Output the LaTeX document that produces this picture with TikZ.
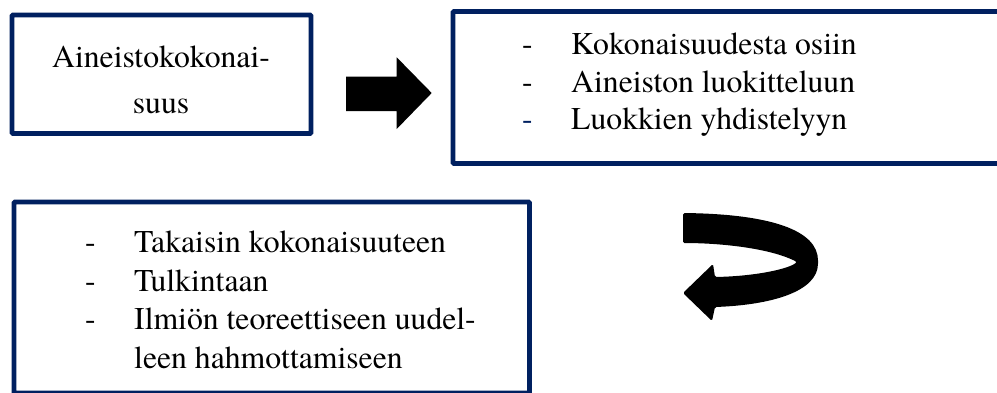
\documentclass[tikz,border=0pt]{standalone}
\usepackage{fontspec}
\newfontfamily\tnr{texgyretermes-regular.otf}
\definecolor{navy}{RGB}{0,32,96}
\begin{document}
\begin{tikzpicture}[x=1pt,y=-1pt,
  box/.style={draw=navy,line width=4.8pt,rounded corners=1pt,fill=none,inner sep=0pt},
  txt/.style={inner sep=0pt,anchor=base west,font=\tnr\fontsize{31.7}{38}\selectfont},
  ctxt/.style={inner sep=0pt,anchor=base,font=\tnr\fontsize{31.7}{38}\selectfont},
  blockarrow/.style={fill=black,draw=none}]
\useasboundingbox (0,0) rectangle (997,392);
\clip (0,0) rectangle (997,392);
\fill[white] (0,0) rectangle (997,392);
% boxes
\node[box,minimum width=299pt,minimum height=118.5pt] (b1) at (161.5,74.25) {};
\node[box,minimum width=557pt,minimum height=152pt] (b2) at (731.5,87.5) {};
\node[box,minimum width=515.5pt,minimum height=191pt] (b3) at (271.75,297.5) {};
% box 1 text
\node[ctxt] (t11) at (161,67) {Aineistokokonai-};
\node[ctxt] (t12) at (161,113) {suus};
% box 2 text
\node[txt] (d21) at (522,54.5) {-};
\node[txt] (t21) at (571,54.5) {Kokonaisuudesta osiin};
\node[txt] (d22) at (522,92) {-};
\node[txt] (t22) at (571,92) {Aineiston luokitteluun};
\node[txt,text=navy] (d23) at (522,129.5) {-};
\node[txt] (t23) at (571,129.5) {Luokkien yhdistelyyn};
% box 3 text
\node[txt] (d31) at (85,252.5) {-};
\node[txt] (t31) at (134,252.5) {Takaisin kokonaisuuteen};
\node[txt] (d32) at (85,291) {-};
\node[txt] (t32) at (134,291) {Tulkintaan};
\node[txt] (d33) at (85,329.5) {-};
\node[txt] (t33) at (134,329.5) {Ilmiön teoreettiseen uudel-};
\node[txt] (t34) at (134,368) {leen hahmottamiseen};
% right block arrow
\fill[blockarrow] (346,76.7) -- (396.7,76.7) -- (396.7,57.3) -- (431.7,93) -- (396.7,129) -- (396.7,111) -- (346,111) -- cycle;
% curved block arrow
\fill[blockarrow,rounded corners=1.5pt] (683,213) .. controls (770,214) and (818,230) .. (818,262)
  .. controls (818,292) and (770,305) .. (715,307) -- (712,321) -- (683,293) -- (713,264) -- (715,277)
  .. controls (760,276) and (790,268) .. (797,262)
  .. controls (770,248) and (720,243) .. (683,243) -- cycle;
\end{tikzpicture}
\end{document}
